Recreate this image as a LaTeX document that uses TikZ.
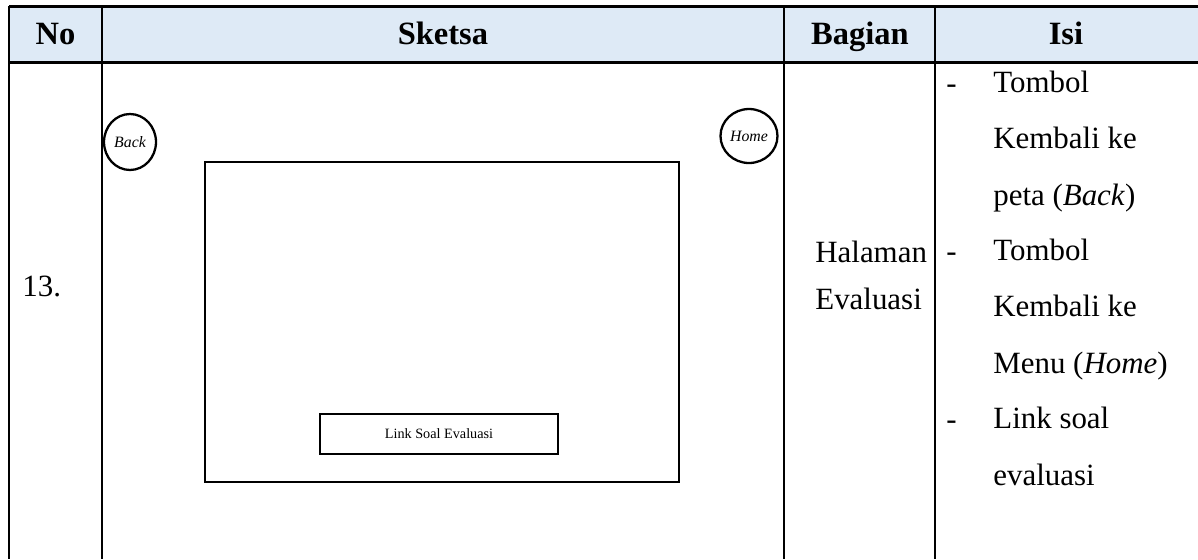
\documentclass[tikz,border=0pt]{standalone}
\usepackage{fontspec}
\setmainfont{Liberation Serif}
\usetikzlibrary{shapes.geometric}
\usetikzlibrary{positioning}
\definecolor{headblue}{HTML}{DEEAF6}
\tikzset{
  tabline/.style={line width=1.7pt},
  sketch/.style={draw, line width=1.3pt, inner sep=0pt},
  btn/.style={draw, ellipse, line width=1.3pt, inner sep=0pt, font=\fontsize{9}{10}\selectfont\itshape},
  headtxt/.style={font=\fontsize{18.5}{22}\selectfont\bfseries, anchor=base},
  celltxt/.style={font=\fontsize{17.6}{31.9}\selectfont, align=left, anchor=base west, inner sep=0pt},
}

\begin{document}
\begin{tikzpicture}[x=0.02cm, y=-0.02cm]
  \useasboundingbox (0,0) rectangle (1198,559);
  % header row
  \fill[headblue] (9,6) rectangle (1198,62);
  \draw[tabline] (9,6) -- (1198,6);
  \draw[tabline] (9,62) -- (1198,62);
  \foreach \cx in {9,102,784,935} \draw[tabline] (\cx,6) -- (\cx,559);

  \node[headtxt] (hno) at (55.5,44) {No};
  \node[headtxt] (hsketsa) at (443,44) {Sketsa};
  \node[headtxt] (hbagian) at (860,44) {Bagian};
  \node[headtxt] (hisi) at (1066,44) {Isi};

  % row 13 (base = last line)
  \node[celltxt] (no) at (22,296) {13.};
  \node[celltxt, font=\fontsize{17.6}{26.7}\selectfont] (bagian) at (815,309) {Halaman\\Evaluasi};

  \node[celltxt] (dashA) at (946,93) {-};
  \node[celltxt] (dashB) at (946,261) {-};
  \node[celltxt] (dashC) at (946,429) {-};
  \node[celltxt] (isiA) at (993,205) {Tombol\\Kembali ke\\peta (\textit{Back})};
  \node[celltxt] (isiB) at (993,373) {Tombol\\Kembali ke\\Menu (\textit{Home})};
  \node[celltxt] (isiC) at (993,485) {Link soal\\evaluasi};

  % sketsa
  \node[btn, minimum width=1.04cm, minimum height=1.12cm] (back) at (130,142) {Back};
  \node[btn, minimum width=1.14cm, minimum height=1.08cm] (home) at (749,136) {Home};
  \node[sketch, minimum width=9.48cm, minimum height=6.4cm] (layar) at (442,322) {};
  \node[sketch, minimum width=4.76cm, minimum height=0.8cm, font=\fontsize{8.1}{10}\selectfont] (link) at (439,434) {Link Soal Evaluasi};
\end{tikzpicture}
\end{document}
